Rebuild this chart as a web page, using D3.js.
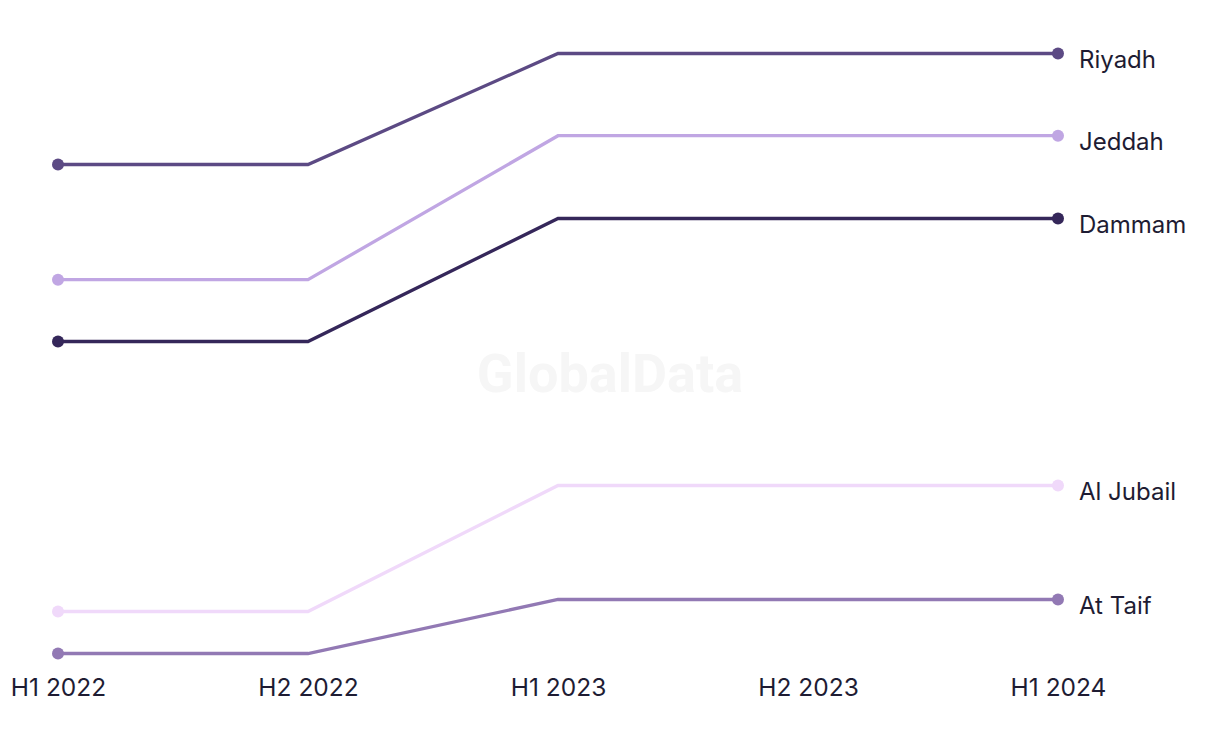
<!DOCTYPE html>
<html><head><meta charset="utf-8">
<script src="https://cdn.jsdelivr.net/npm/d3@7"></script>
<style>body{margin:0;background:#fff;}svg{display:block;font-family:Inter, "Open Sans", sans-serif;}</style>
</head><body>
<svg id="c" width="1220" height="744"></svg>
<script>
const periods = ["H1 2022","H2 2022","H1 2023","H2 2023","H1 2024"];
const cities = ["Riyadh","Jeddah","Dammam","Al Jubail","At Taif"];
const riyadh   = [81.5, 81.5, 100, 100, 100];
const jeddah   = [62.3, 62.3, 86.3, 86.3, 86.3];
const dammam   = [52, 52, 72.5, 72.5, 72.5];
const alJubail = [7, 7, 28, 28, 28];
const atTaif   = [0, 0, 9, 9, 9];
const seriesValues = [riyadh, jeddah, dammam, alJubail, atTaif];
const colors = ["#5c4a84","#c0a6e3","#35275a","#f0d9fa","#9279b4"];

const svg = d3.select("#c");
const x = d3.scalePoint().domain(periods).range([58, 1058]);
const y = d3.scaleLinear().domain([0, 100]).range([653.5, 53.5]);

svg.append("text").attr("x", 610).attr("y", 392).attr("text-anchor","middle")
  .attr("font-size", 54).attr("font-weight", 700).attr("fill", "#f6f6f6")
  .attr("font-family","Roboto, Arial, sans-serif").text("GlobalData");

const line = d3.line().x((d,i)=>x(periods[i])).y(d=>y(d));
const series = cities.map((c,i)=>({name:c, values:seriesValues[i], color:colors[i]}));

const g = svg.append("g");
series.forEach(s=>{
  g.append("path").attr("d", line(s.values)).attr("fill","none")
    .attr("stroke", s.color).attr("stroke-width", 3.3);
  [0, s.values.length-1].forEach(i=>{
    g.append("circle").attr("cx", x(periods[i])).attr("cy", y(s.values[i])).attr("r", 6).attr("fill", s.color);
  });
  g.append("text").attr("x", x(periods[4]) + 21).attr("y", y(s.values[4]) + 14.5)
    .attr("font-size", 24).attr("fill", "#1e1c33").text(s.name);
});

const axis = d3.axisBottom(x).tickSize(0).tickPadding(0);
const ax = svg.append("g").attr("transform", "translate(0,696)").call(axis);
ax.select(".domain").remove();
ax.selectAll("text").attr("font-size", 24.5).attr("fill", "#1e1c33").attr("font-family","Inter, sans-serif").attr("dy","0");
</script>
</body></html>
